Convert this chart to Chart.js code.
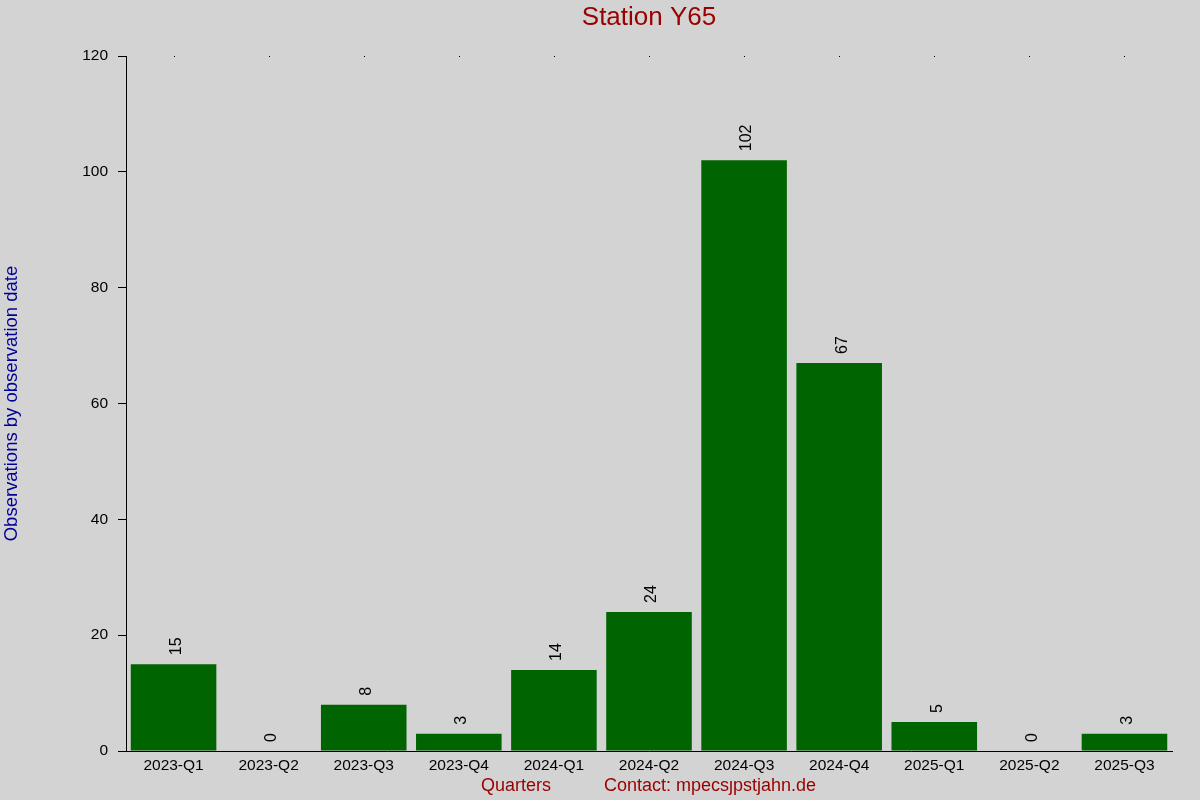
<!DOCTYPE html>
<html>
<head>
<meta charset="utf-8">
<script src="https://cdn.jsdelivr.net/npm/chart.js@4"></script>
<style>
html,body{margin:0;padding:0;background:#d3d3d3;}
#wrap{width:1200px;height:800px;}
</style>
</head>
<body>
<div id="wrap"><canvas id="c" width="1200" height="800"></canvas></div>
<script>
const categories = ["2023-Q1","2023-Q2","2023-Q3","2023-Q4","2024-Q1","2024-Q2","2024-Q3","2024-Q4","2025-Q1","2025-Q2","2025-Q3"];
const observations = [15, 0, 8, 3, 14, 24, 102, 67, 5, 0, 3];
const yTicks = [0, 20, 40, 60, 80, 100, 120];
const titleText = "Station Y65";
const yTitle = "Observations by observation date";
const xTitle = "Quarters";
const contactText = "Contact: mpecsȷpstjahn.de";

const FONT = "'Liberation Sans', Arial, sans-serif";

const decor = {
  id: 'decor',
  beforeDraw(chart) {
    const ctx = chart.ctx;
    ctx.save();
    ctx.fillStyle = '#d3d3d3';
    ctx.fillRect(0, 0, chart.width, chart.height);
    ctx.restore();
  },
  afterDatasetsDraw(chart) {
    const ctx = chart.ctx;
    const xs = chart.scales.x;
    const area = chart.chartArea;
    ctx.save();
    // value labels
    const meta = chart.getDatasetMeta(0);
    ctx.font = '16px ' + FONT;
    ctx.fillStyle = '#000';
    ctx.textAlign = 'left';
    ctx.textBaseline = 'middle';
    meta.data.forEach((bar, i) => {
      ctx.save();
      ctx.translate(bar.x + 3, bar.y - 9);
      ctx.rotate(-Math.PI / 2);
      ctx.fillText(String(observations[i]), 0, 0);
      ctx.restore();
    });
    // top dots at category centres
    ctx.fillStyle = '#000';
    categories.forEach((c, i) => {
      const x = Math.round(xs.getPixelForValue(i));
      ctx.fillRect(x, Math.round(area.top), 1, 1);
    });
    // title
    const cx = (area.left + area.right) / 2;
    ctx.font = '26px ' + FONT;
    ctx.fillStyle = '#990000';
    ctx.textAlign = 'center';
    ctx.textBaseline = 'middle';
    ctx.fillText(titleText, cx, 18);
    // y title
    ctx.save();
    ctx.font = '18.5px ' + FONT;
    ctx.fillStyle = '#000099';
    ctx.translate(12, (area.top + area.bottom) / 2);
    ctx.rotate(-Math.PI / 2);
    ctx.fillText(yTitle, 0, 0);
    ctx.restore();
    // x title and contact
    ctx.font = '18px ' + FONT;
    ctx.fillStyle = '#990000';
    ctx.textAlign = 'center';
    ctx.fillText(xTitle, 516, 786);
    ctx.fillText(contactText, 710, 786);
    ctx.restore();
  }
};

new Chart(document.getElementById('c'), {
  type: 'bar',
  data: {
    labels: categories,
    datasets: [{
      data: observations,
      backgroundColor: '#006400',
      borderWidth: 0,
      categoryPercentage: 0.9,
      barPercentage: 1.0
    }]
  },
  options: {
    responsive: false,
    animation: false,
    devicePixelRatio: 1,
    layout: { padding: { top: 56, right: 28, left: 0, bottom: 0 } },
    plugins: { legend: { display: false }, tooltip: { enabled: false }, title: { display: false } },
    scales: {
      x: {
        grid: { display: false, drawTicks: false },
        border: { display: true, color: '#000', width: 1 },
        ticks: { color: '#000', font: { family: FONT, size: 15.5 }, padding: 5, maxRotation: 0, autoSkip: false },
        afterFit(s) { s.height = 49; }
      },
      y: {
        min: 0, max: 120,
        afterBuildTicks(s) { s.ticks = yTicks.map(v => ({ value: v })); },
        grid: { drawOnChartArea: false, drawTicks: true, tickLength: 8, color: '#000' },
        border: { display: true, color: '#000', width: 1 },
        ticks: { color: '#000', font: { family: FONT, size: 15.5 }, padding: 10 },
        afterFit(s) { s.width = 126; }
      }
    }
  },
  plugins: [decor]
});
</script>
</body>
</html>
